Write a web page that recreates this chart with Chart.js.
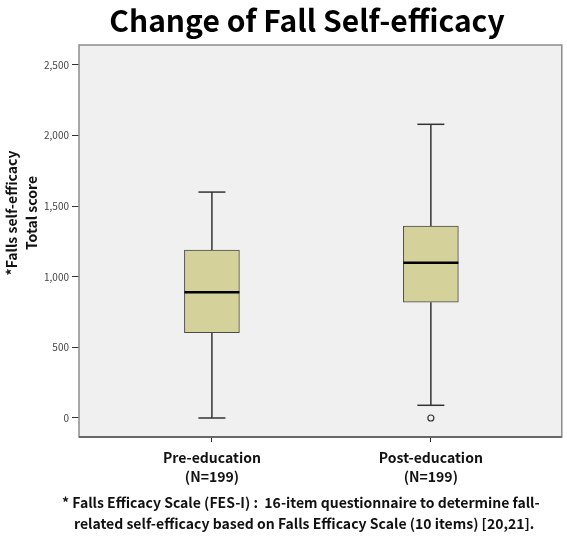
<!DOCTYPE html>
<html>
<head>
<meta charset="utf-8">
<script src="https://cdn.jsdelivr.net/npm/chart.js@4/dist/chart.umd.min.js"></script>
<style>
html,body{margin:0;padding:0;background:#fff;}
#c{display:block;}
</style>
</head>
<body>
<canvas id="c" width="567" height="539"></canvas>
<script>
// ---- data ----
const categories = ['Pre-education', 'Post-education'];
const groupN = ['(N=199)', '(N=199)'];
const whiskerLow = [0, 90];
const q1 = [605, 820];
const median = [890, 1100];
const q3 = [1190, 1360];
const whiskerHigh = [1600, 2080];
const outliers = [[], [0]];
const yTicks = [0, 500, 1000, 1500, 2000, 2500];
const chartTitle = 'Change of Fall Self-efficacy';
const yTitle = ['*Falls self-efficacy', 'Total score'];
const footnote = ['* Falls Efficacy Scale (FES-I) :  16-item questionnaire to determine fall-',
                  'related self-efficacy based on Falls Efficacy Scale (10 items) [20,21].'];

const FONT = "'Noto Sans CJK KR', 'Noto Sans', sans-serif";

const boxData = categories.map((c, i) => ({x: i, y: [q1[i], q3[i]]}));
const outlierData = [];
outliers.forEach((arr, i) => arr.forEach(v => outlierData.push({x: i, y: v})));

const plotFrame = {
  id: 'plotFrame',
  beforeDatasetsDraw(chart) {
    const {ctx, chartArea: a} = chart;
    ctx.save();
    ctx.fillStyle = '#f0f0f0';
    ctx.fillRect(a.left, a.top, a.right - a.left, a.bottom - a.top);
    ctx.strokeStyle = '#8c8c8c';
    ctx.lineWidth = 1.5;
    ctx.strokeRect(a.left, a.top, a.right - a.left, a.bottom - a.top);
    ctx.strokeStyle = '#555';
    ctx.beginPath();
    ctx.moveTo(a.left, a.bottom); ctx.lineTo(a.right, a.bottom);
    ctx.stroke();
    // whiskers
    const xs = chart.scales.x, ys = chart.scales.y;
    ctx.strokeStyle = '#333';
    ctx.lineWidth = 1.5;
    categories.forEach((c, i) => {
      const px = xs.getPixelForValue(i);
      const segs = [[whiskerLow[i], q1[i]], [q3[i], whiskerHigh[i]]];
      segs.forEach(s => {
        ctx.beginPath();
        ctx.moveTo(px, ys.getPixelForValue(s[0]));
        ctx.lineTo(px, ys.getPixelForValue(s[1]));
        ctx.stroke();
      });
      [whiskerLow[i], whiskerHigh[i]].forEach(v => {
        const py = ys.getPixelForValue(v);
        ctx.beginPath();
        ctx.moveTo(px - 13.5, py); ctx.lineTo(px + 13.5, py);
        ctx.stroke();
      });
    });
    ctx.restore();
  },
  afterDatasetsDraw(chart) {
    const {ctx} = chart;
    const xs = chart.scales.x, ys = chart.scales.y;
    const meta = chart.getDatasetMeta(0);
    ctx.save();
    ctx.strokeStyle = '#000';
    ctx.lineWidth = 2.5;
    categories.forEach((c, i) => {
      const bar = meta.data[i];
      const half = bar.width / 2;
      const px = xs.getPixelForValue(i);
      const py = ys.getPixelForValue(median[i]);
      ctx.beginPath();
      ctx.moveTo(px - half, py); ctx.lineTo(px + half, py);
      ctx.stroke();
    });
    ctx.restore();
  },
  afterDraw(chart) {
    const {ctx} = chart;
    ctx.save();
    // title
    ctx.fillStyle = '#000';
    ctx.font = 'bold 30px ' + FONT;
    ctx.textAlign = 'center';
    ctx.textBaseline = 'middle';
    ctx.fillText(chartTitle, 307, 21);
    // y-axis title
    ctx.fillStyle = '#111';
    ctx.font = 'bold 14px ' + FONT;
    const cy = 213;
    [12, 32].forEach((x, k) => {
      ctx.save();
      ctx.translate(x, cy);
      ctx.rotate(-Math.PI / 2);
      ctx.fillText(yTitle[k], 0, 0);
      ctx.restore();
    });
    // footnote
    ctx.textAlign = 'left';
    ctx.fillText(footnote[0], 62, 503);
    ctx.fillText(footnote[1], 74, 524);
    ctx.restore();
  }
};

new Chart(document.getElementById('c'), {
  data: {
    datasets: [
      {
        type: 'bar',
        data: boxData,
        backgroundColor: '#d4d19b',
        borderColor: '#4a4a4a',
        borderWidth: 1,
        borderSkipped: false,
        barThickness: 55
      },
      {
        type: 'scatter',
        data: outlierData,
        pointRadius: 3,
        pointStyle: 'circle',
        backgroundColor: 'rgba(0,0,0,0)',
        borderColor: '#333',
        borderWidth: 1.2
      }
    ]
  },
  options: {
    responsive: false,
    animation: false,
    devicePixelRatio: 1,
    layout: {padding: {left: 0, right: 5, top: 45, bottom: 46}},
    plugins: {
      legend: {display: false},
      tooltip: {enabled: false},
      title: {display: false},
      subtitle: {display: false}
    },
    scales: {
      x: {
        type: 'linear',
        offset: false,
        min: -0.607,
        max: 1.598,
        afterBuildTicks(scale) { scale.ticks = categories.map((c, i) => ({value: i})); },
        afterFit(scale) { scale.height = 56; scale.paddingLeft = 0; scale.paddingRight = 0; },
        ticks: {
          callback: (v) => [categories[v], groupN[v]],
          color: '#111',
          font: {family: FONT, size: 14, weight: 'bold', lineHeight: 1.35},
          padding: 6,
          maxRotation: 0,
          autoSkip: false
        },
        grid: {drawOnChartArea: false, offset: false, tickLength: 5, color: '#333', tickColor: '#333'},
        border: {display: false}
      },
      y: {
        type: 'linear',
        min: -134.6,
        max: 2641.6,
        afterBuildTicks(scale) { scale.ticks = yTicks.map(v => ({value: v})); },
        afterFit(scale) { scale.width = 79; scale.paddingTop = 0; scale.paddingBottom = 0; },
        ticks: {
          callback: (v) => v.toLocaleString('en-US'),
          color: '#444',
          font: {family: FONT, size: 10},
          padding: 3
        },
        grid: {drawOnChartArea: false, tickLength: 7, color: '#333', tickColor: '#333'},
        border: {display: false}
      }
    }
  },
  plugins: [plotFrame]
});
</script>
</body>
</html>
